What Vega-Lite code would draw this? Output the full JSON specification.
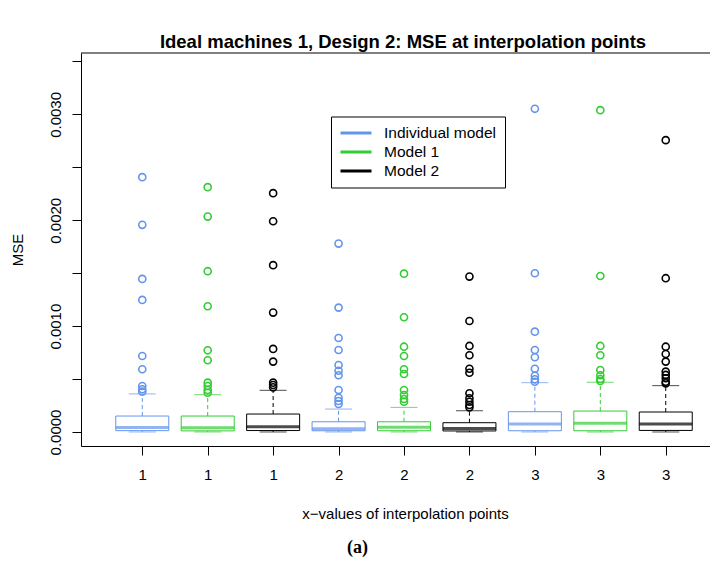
{
  "$schema": "https://vega.github.io/schema/vega-lite/v6.json",
  "width": 629,
  "height": 393,
  "autosize": "none",
  "padding": {"left": 81, "top": 53, "right": 0, "bottom": 132},
  "background": "white",
  "config": {
    "view": {"stroke": null},
    "font": "Liberation Sans",
    "axis": {
      "domainColor": "black",
      "domainWidth": 1,
      "tickColor": "black",
      "tickWidth": 1,
      "tickSize": 9,
      "labelColor": "black",
      "titleColor": "black",
      "labelFont": "Liberation Sans",
      "titleFont": "Liberation Sans",
      "labelFontSize": 15,
      "titleFontSize": 15,
      "titleFontWeight": "normal",
      "grid": false,
      "labelFlush": false,
      "labelOverlap": false
    }
  },
  "title": {
    "text": "Ideal machines 1, Design 2: MSE at interpolation points",
    "font": "Liberation Sans",
    "fontSize": 18.5,
    "fontWeight": "bold",
    "color": "black",
    "anchor": "middle",
    "dx": 7.5,
    "offset": 1
  },
  "datasets": {
    "boxes": [
      {"pos": 1, "model": "Individual model", "lo": 0.0000005, "q1": 0.000013, "med": 0.000042, "q3": 0.000151, "hi": 0.000360},
      {"pos": 2, "model": "Model 1", "lo": 0.0000005, "q1": 0.000011, "med": 0.000040, "q3": 0.000151, "hi": 0.000353},
      {"pos": 3, "model": "Model 2", "lo": 0.0000005, "q1": 0.000014, "med": 0.000050, "q3": 0.000170, "hi": 0.000394},
      {"pos": 4, "model": "Individual model", "lo": 0.0000005, "q1": 0.000012, "med": 0.000032, "q3": 0.000097, "hi": 0.000217},
      {"pos": 5, "model": "Model 1", "lo": 0.0000005, "q1": 0.000012, "med": 0.000044, "q3": 0.000097, "hi": 0.000233},
      {"pos": 6, "model": "Model 2", "lo": 0.0000005, "q1": 0.000010, "med": 0.000033, "q3": 0.000088, "hi": 0.000201},
      {"pos": 7, "model": "Individual model", "lo": 0.0000005, "q1": 0.000012, "med": 0.000076, "q3": 0.000192, "hi": 0.000466},
      {"pos": 8, "model": "Model 1", "lo": 0.0000005, "q1": 0.000012, "med": 0.000082, "q3": 0.000198, "hi": 0.000470},
      {"pos": 9, "model": "Model 2", "lo": 0.0000005, "q1": 0.000015, "med": 0.000076, "q3": 0.000189, "hi": 0.000438}
    ],
    "outliers": [
      {"pos": 1, "model": "Individual model", "mse": 0.002407},
      {"pos": 1, "model": "Individual model", "mse": 0.001957},
      {"pos": 1, "model": "Individual model", "mse": 0.001446},
      {"pos": 1, "model": "Individual model", "mse": 0.001248},
      {"pos": 1, "model": "Individual model", "mse": 0.000718},
      {"pos": 1, "model": "Individual model", "mse": 0.000593},
      {"pos": 1, "model": "Individual model", "mse": 0.000435},
      {"pos": 1, "model": "Individual model", "mse": 0.000404},
      {"pos": 1, "model": "Individual model", "mse": 0.000381},
      {"pos": 2, "model": "Model 1", "mse": 0.002313},
      {"pos": 2, "model": "Model 1", "mse": 0.002035},
      {"pos": 2, "model": "Model 1", "mse": 0.001519},
      {"pos": 2, "model": "Model 1", "mse": 0.001188},
      {"pos": 2, "model": "Model 1", "mse": 0.000772},
      {"pos": 2, "model": "Model 1", "mse": 0.000678},
      {"pos": 2, "model": "Model 1", "mse": 0.000466},
      {"pos": 2, "model": "Model 1", "mse": 0.000435},
      {"pos": 2, "model": "Model 1", "mse": 0.000397},
      {"pos": 2, "model": "Model 1", "mse": 0.000371},
      {"pos": 3, "model": "Model 2", "mse": 0.002256},
      {"pos": 3, "model": "Model 2", "mse": 0.001991},
      {"pos": 3, "model": "Model 2", "mse": 0.001576},
      {"pos": 3, "model": "Model 2", "mse": 0.001128},
      {"pos": 3, "model": "Model 2", "mse": 0.000785},
      {"pos": 3, "model": "Model 2", "mse": 0.000665},
      {"pos": 3, "model": "Model 2", "mse": 0.000466},
      {"pos": 3, "model": "Model 2", "mse": 0.000444},
      {"pos": 3, "model": "Model 2", "mse": 0.000422},
      {"pos": 4, "model": "Individual model", "mse": 0.001780},
      {"pos": 4, "model": "Individual model", "mse": 0.001175},
      {"pos": 4, "model": "Individual model", "mse": 0.000888},
      {"pos": 4, "model": "Individual model", "mse": 0.000775},
      {"pos": 4, "model": "Individual model", "mse": 0.000633},
      {"pos": 4, "model": "Individual model", "mse": 0.000579},
      {"pos": 4, "model": "Individual model", "mse": 0.000536},
      {"pos": 4, "model": "Individual model", "mse": 0.000397},
      {"pos": 4, "model": "Individual model", "mse": 0.000324},
      {"pos": 4, "model": "Individual model", "mse": 0.000293},
      {"pos": 4, "model": "Individual model", "mse": 0.000265},
      {"pos": 5, "model": "Model 1", "mse": 0.001496},
      {"pos": 5, "model": "Model 1", "mse": 0.001084},
      {"pos": 5, "model": "Model 1", "mse": 0.000806},
      {"pos": 5, "model": "Model 1", "mse": 0.000718},
      {"pos": 5, "model": "Model 1", "mse": 0.000593},
      {"pos": 5, "model": "Model 1", "mse": 0.000548},
      {"pos": 5, "model": "Model 1", "mse": 0.000397},
      {"pos": 5, "model": "Model 1", "mse": 0.000350},
      {"pos": 5, "model": "Model 1", "mse": 0.000312},
      {"pos": 5, "model": "Model 1", "mse": 0.000286},
      {"pos": 6, "model": "Model 2", "mse": 0.001468},
      {"pos": 6, "model": "Model 2", "mse": 0.001049},
      {"pos": 6, "model": "Model 2", "mse": 0.000813},
      {"pos": 6, "model": "Model 2", "mse": 0.000725},
      {"pos": 6, "model": "Model 2", "mse": 0.000598},
      {"pos": 6, "model": "Model 2", "mse": 0.000560},
      {"pos": 6, "model": "Model 2", "mse": 0.000366},
      {"pos": 6, "model": "Model 2", "mse": 0.000319},
      {"pos": 6, "model": "Model 2", "mse": 0.000286},
      {"pos": 6, "model": "Model 2", "mse": 0.000255},
      {"pos": 6, "model": "Model 2", "mse": 0.000233},
      {"pos": 7, "model": "Individual model", "mse": 0.003053},
      {"pos": 7, "model": "Individual model", "mse": 0.001500},
      {"pos": 7, "model": "Individual model", "mse": 0.000948},
      {"pos": 7, "model": "Individual model", "mse": 0.000775},
      {"pos": 7, "model": "Individual model", "mse": 0.000706},
      {"pos": 7, "model": "Individual model", "mse": 0.000598},
      {"pos": 7, "model": "Individual model", "mse": 0.000532},
      {"pos": 7, "model": "Individual model", "mse": 0.000498},
      {"pos": 7, "model": "Individual model", "mse": 0.000475},
      {"pos": 8, "model": "Model 1", "mse": 0.003040},
      {"pos": 8, "model": "Model 1", "mse": 0.001474},
      {"pos": 8, "model": "Model 1", "mse": 0.000813},
      {"pos": 8, "model": "Model 1", "mse": 0.000725},
      {"pos": 8, "model": "Model 1", "mse": 0.000586},
      {"pos": 8, "model": "Model 1", "mse": 0.000536},
      {"pos": 8, "model": "Model 1", "mse": 0.000501},
      {"pos": 8, "model": "Model 1", "mse": 0.000482},
      {"pos": 9, "model": "Model 2", "mse": 0.002757},
      {"pos": 9, "model": "Model 2", "mse": 0.001453},
      {"pos": 9, "model": "Model 2", "mse": 0.000806},
      {"pos": 9, "model": "Model 2", "mse": 0.000737},
      {"pos": 9, "model": "Model 2", "mse": 0.000665},
      {"pos": 9, "model": "Model 2", "mse": 0.000570},
      {"pos": 9, "model": "Model 2", "mse": 0.000539},
      {"pos": 9, "model": "Model 2", "mse": 0.000508},
      {"pos": 9, "model": "Model 2", "mse": 0.000475},
      {"pos": 9, "model": "Model 2", "mse": 0.000460}
    ],
    "caption": [{"label": "(a)"}]
  },
  "layer": [
    {
      "data": {"name": "boxes"},
      "mark": {"type": "rule", "strokeWidth": 1, "strokeDash": [4, 3]},
      "encoding": {
        "x": {
          "field": "pos",
          "type": "quantitative",
          "title": "x\u2212values of interpolation points",
          "scale": {"domain": [0.14, 9.6], "nice": false, "zero": false},
          "axis": {
            "values": [1, 2, 3, 4, 5, 6, 7, 8, 9],
            "labelExpr": "'' + ceil(datum.value / 3)",
            "labelBaseline": "alphabetic",
            "labelPadding": 24,
            "titleX": 324,
            "titleY": 72,
            "titleAlign": "center",
            "titleBaseline": "alphabetic"
          }
        },
        "y": {
          "field": "q3",
          "type": "quantitative",
          "title": "MSE",
          "scale": {"domain": [-0.000132, 0.00358], "nice": false, "zero": false},
          "axis": {
            "values": [0, 0.0005, 0.001, 0.0015, 0.002, 0.0025, 0.003, 0.0035],
            "labelExpr": "abs(datum.value * 1000 - round(datum.value * 1000)) < 0.000001 ? format(datum.value, '.4f') : ''",
            "labelAngle": 270,
            "labelAlign": "center",
            "labelBaseline": "alphabetic",
            "labelPadding": 11.5,
            "titleX": -59,
            "titleBaseline": "alphabetic"
          }
        },
        "y2": {"field": "hi"},
        "color": {
          "field": "model",
          "type": "nominal",
          "scale": {
            "domain": ["Individual model", "Model 1", "Model 2"],
            "range": ["#6495ED", "#32CD32", "#000000"]
          },
          "legend": {
            "title": null,
            "orient": "none",
            "legendX": 250,
            "legendY": 63.5,
            "padding": 8,
            "strokeColor": "black",
            "fillColor": "white",
            "cornerRadius": 0,
            "symbolType": "stroke",
            "symbolSize": 961,
            "symbolStrokeWidth": 3,
            "symbolOffset": 0,
            "labelOffset": 11,
            "labelFont": "Liberation Sans",
            "labelFontSize": 15.5,
            "labelColor": "black",
            "clipHeight": 17,
            "rowPadding": 2
          }
        }
      }
    },
    {
      "data": {"name": "boxes"},
      "mark": {"type": "rule", "strokeWidth": 1, "strokeDash": [4, 3]},
      "encoding": {
        "x": {"field": "pos", "type": "quantitative", "title": "x\u2212values of interpolation points"},
        "y": {"field": "lo", "type": "quantitative", "title": "MSE"},
        "y2": {"field": "q1"},
        "color": {"field": "model", "type": "nominal", "legend": null}
      }
    },
    {
      "data": {"name": "boxes"},
      "mark": {"type": "tick", "orient": "horizontal", "size": 27, "thickness": 1},
      "encoding": {
        "x": {"field": "pos", "type": "quantitative", "title": "x\u2212values of interpolation points"},
        "y": {"field": "hi", "type": "quantitative", "title": "MSE"},
        "color": {"field": "model", "type": "nominal", "legend": null}
      }
    },
    {
      "data": {"name": "boxes"},
      "mark": {"type": "tick", "orient": "horizontal", "size": 27, "thickness": 1},
      "encoding": {
        "x": {"field": "pos", "type": "quantitative", "title": "x\u2212values of interpolation points"},
        "y": {"field": "lo", "type": "quantitative", "title": "MSE"},
        "color": {"field": "model", "type": "nominal", "legend": null}
      }
    },
    {
      "data": {"name": "boxes"},
      "mark": {"type": "bar", "width": 53, "filled": false, "strokeWidth": 1, "orient": "vertical"},
      "encoding": {
        "x": {"field": "pos", "type": "quantitative", "title": "x\u2212values of interpolation points"},
        "y": {"field": "q1", "type": "quantitative", "title": "MSE"},
        "y2": {"field": "q3"},
        "color": {"field": "model", "type": "nominal", "legend": null}
      }
    },
    {
      "data": {"name": "boxes"},
      "mark": {"type": "tick", "orient": "horizontal", "size": 53, "thickness": 3},
      "encoding": {
        "x": {"field": "pos", "type": "quantitative", "title": "x\u2212values of interpolation points"},
        "y": {"field": "med", "type": "quantitative", "title": "MSE"},
        "color": {"field": "model", "type": "nominal", "legend": null}
      }
    },
    {
      "data": {"name": "outliers"},
      "mark": {"type": "point", "shape": "circle", "filled": false, "size": 50, "strokeWidth": 1.6, "opacity": 1},
      "encoding": {
        "x": {"field": "pos", "type": "quantitative", "title": "x\u2212values of interpolation points"},
        "y": {"field": "mse", "type": "quantitative", "title": "MSE"},
        "color": {"field": "model", "type": "nominal", "legend": null}
      }
    },
    {
      "data": {"name": "caption"},
      "mark": {"type": "rule", "color": "black", "strokeWidth": 1},
      "encoding": {
        "y": {"datum": 0.00358, "type": "quantitative"}
      }
    },
    {
      "data": {"name": "caption"},
      "mark": {"type": "text", "font": "Liberation Serif", "fontSize": 18, "fontWeight": "bold", "color": "black", "align": "center", "baseline": "middle"},
      "encoding": {
        "text": {"field": "label"},
        "x": {"datum": 4.29, "type": "quantitative"},
        "y": {"datum": -0.001095, "type": "quantitative"}
      }
    }
  ]
}
